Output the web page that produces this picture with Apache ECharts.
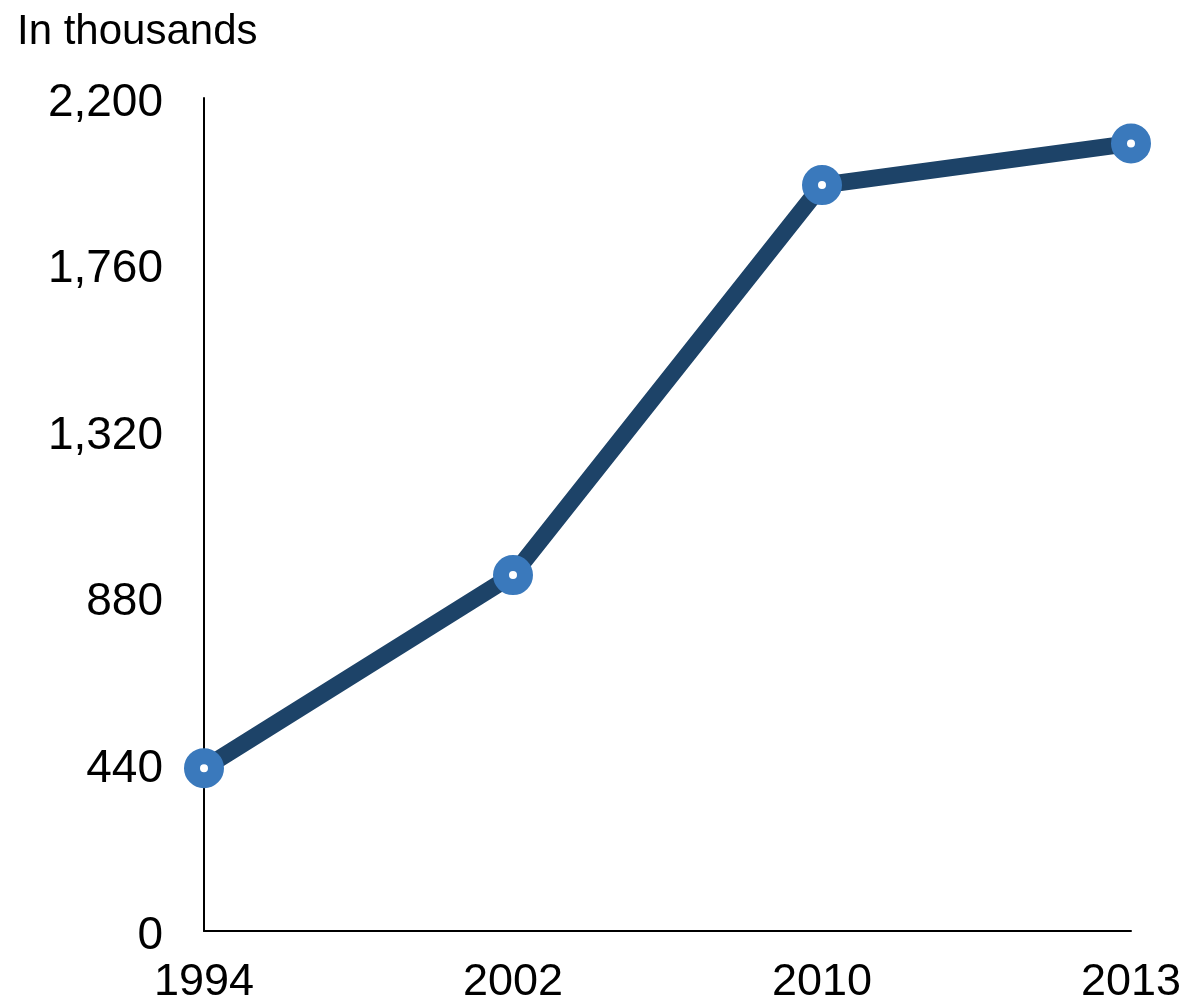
<!DOCTYPE html>
<html>
<head>
<meta charset="utf-8">
<script src="https://cdn.jsdelivr.net/npm/echarts@6/dist/echarts.min.js"></script>
<style>
  html, body { margin: 0; padding: 0; background: #fff; }
  #main { width: 1187px; height: 1005px; }
</style>
</head>
<body>
<div id="main"></div>
<script>
const years = ['1994', '2002', '2010', '2013'];
const values = [430, 940, 1970, 2080];

const chart = echarts.init(document.getElementById('main'));

const font = 'Liberation Sans, Helvetica, Arial, sans-serif';

chart.setOption({
  animation: false,
  title: {
    text: 'In thousands',
    left: 12,
    top: 6,
    textStyle: { fontFamily: font, fontSize: 42, fontWeight: 'normal', color: '#000' }
  },
  grid: { left: 204, right: 56, top: 98, bottom: 74, containLabel: false },
  xAxis: {
    type: 'category',
    data: years,
    boundaryGap: false,
    axisLine: { lineStyle: { color: '#000', width: 2 } },
    axisTick: { show: false },
    axisLabel: { fontFamily: font, fontSize: 45, color: '#000', margin: 29 }
  },
  yAxis: {
    type: 'value',
    min: 0,
    max: 2200,
    interval: 440,
    splitLine: { show: false },
    axisLine: { show: true, lineStyle: { color: '#000', width: 2 } },
    axisTick: { show: false },
    axisLabel: {
      margin: 41,
      formatter: v => '{v|' + v.toLocaleString('en-US') + '}',
      rich: {
        v: { fontFamily: font, fontSize: 46, color: '#000', padding: [10, 0, 0, 0] }
      }
    }
  },
  series: [{
    type: 'line',
    data: values,
    symbol: 'circle',
    symbolSize: 24,
    lineStyle: { color: '#1d4368', width: 17 },
    itemStyle: { color: '#fff', borderColor: '#3a79bc', borderWidth: 16 }
  }]
});
</script>
</body>
</html>
